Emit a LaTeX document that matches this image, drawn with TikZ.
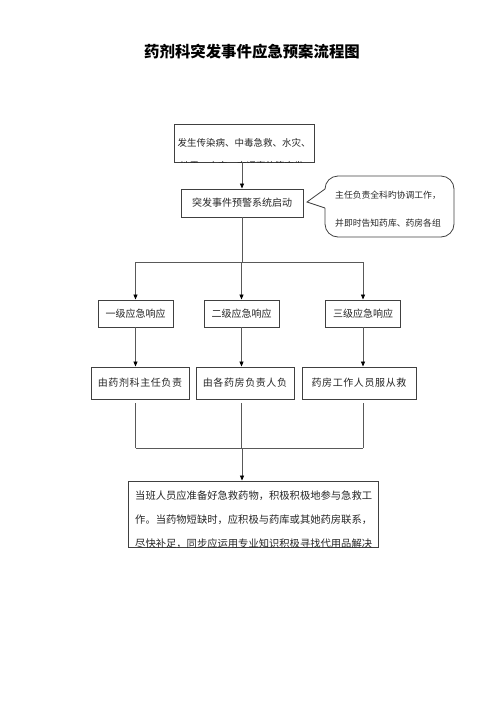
\documentclass[tikz,border=0pt]{standalone}
\usepackage{fontspec}
\setmainfont{Noto Sans CJK SC}
\newfontfamily\deptfont[LetterSpace=6]{Noto Sans CJK SC}
\usetikzlibrary{arrows.meta}

\begin{document}
\begin{tikzpicture}[x=1pt,y=-1pt,
    box/.style={draw=black!75,line width=0.9pt,inner sep=0pt,text=black!85,font=\fontsize{10}{12}\selectfont},
    txt/.style={inner sep=0pt,align=left,text=black!85},
    conn/.style={draw=black!65,line width=0.8pt},
    arr/.style={conn,-{Triangle[length=5pt,width=4pt,color=black]}}]
  \useasboundingbox (0,0) rectangle (500,707);
  \node[font=\fontsize{15.4}{18}\selectfont\bfseries] (title) at (252,52) {药剂科突发事件应急预案流程图};

  \node[box,minimum width=140,minimum height=38,font=\fontsize{9.5}{12}\selectfont] (src) at (244,143) {发生传染病、中毒急救、水灾、};
  \begin{scope}
    \clip (src.north west) rectangle (src.south east);
    \node[txt,anchor=west,font=\fontsize{9.5}{12}\selectfont] (srcmore) at (180,166) {地震、火灾、交通事故等突发};
  \end{scope}
  \node[box,minimum width=122,minimum height=28] (alarm) at (242,203) {突发事件预警系统启动};

  \draw[draw=black!75,line width=0.8pt] (325,208) -- (307,202) -- (325,189) -- (325,188) [rounded corners=13] -- (325,176) -- (454,176) -- (454,237) -- (325,237) -- (325,208);
  \node[txt,anchor=west,font=\fontsize{8.8}{28}\selectfont] (note) at (335,209) {主任负责全科旳协调工作，\\并即时告知药库、药房各组};

  \foreach \i/\x/\t in {1/135.5/一级应急响应,2/241.5/二级应急响应,3/363/三级应急响应}
    \node[box,minimum width=75,minimum height=27] (lv\i) at (\x,313.5) {\t};
  \foreach \i/\x/\w/\t in {1/140/98/由药剂科主任负责,2/245/98/由各药房负责人负,3/359/114/药房工作人员服从救}
    \node[box,minimum width=\w,minimum height=32,font=\fontsize{10}{12}\deptfont] (dp\i) at (\x,383) {\t};

  \node[box,minimum width=250,minimum height=66] (fin) at (253,514) {};
  \begin{scope}
    \clip (fin.north west) rectangle (fin.south east);
    \node[txt,anchor=west,font=\fontsize{10.3}{24}\selectfont] (fintext) at (135,520) {当班人员应准备好急救药物，积极积极地参与急救工\\作。当药物短缺时，应积极与药库或其她药房联系，\\尽快补足，同步应运用专业知识积极寻找代用品解决};
  \end{scope}

  \coordinate (hub) at (242,262);
  \coordinate (bus) at (242,448);
  \draw[arr] (src.south -| alarm) -- (alarm);
  \draw[conn] (alarm) -- (hub);
  \draw[conn] (hub -| lv1) -- (hub -| lv3);
  \draw[conn] (bus -| lv1) -- (bus -| lv3);
  \foreach \i in {1,2,3} {
    \draw[arr] (hub -| lv\i) -- (lv\i);
    \draw[arr] (lv\i) -- (lv\i |- dp\i.north);
    \draw[conn] ([yshift=-4pt]dp\i.south -| lv\i) -- (bus -| lv\i);
  }
  \draw[arr] (bus) -- (bus |- fin.north);
\end{tikzpicture}
\end{document}
